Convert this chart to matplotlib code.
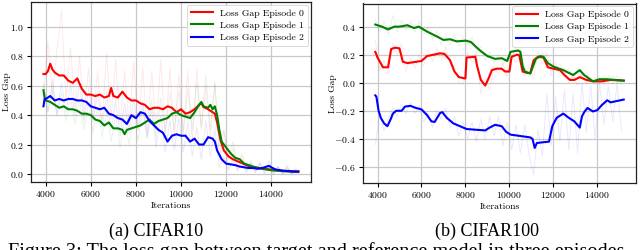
import numpy as np
import matplotlib
matplotlib.use("Agg")
import matplotlib.pyplot as plt

plt.rcParams['font.family'] = ['cmr10', 'DejaVu Serif']
plt.rcParams['mathtext.fontset'] = 'cm'
plt.rcParams['axes.formatter.use_mathtext'] = True

series_labels = ["Loss Gap Episode 0", "Loss Gap Episode 1", "Loss Gap Episode 2"]
series_colors = ["#ff0000", "#008000", "#0000ff"]

# ---------------- CIFAR10 (left) smoothed ----------------
c10_ep0_x = [3900,4000,4100,4200,4300,4400,4600,4800,5000,5200,5400,5600,5800,6000,6200,6400,6600,6800,6900,7000,
             7200,7400,7600,7800,8000,8200,8400,8600,8800,9000,9200,9400,9600,9800,10000,10200,10400,10600,10800,10900,
             11000,11200,11300,11500,11600,11750,11900,12100,12300,12600,13050,13500,13950,14400,14800,15200]
c10_ep0_y = [0.68,0.68,0.70,0.75,0.71,0.69,0.67,0.67,0.635,0.62,0.65,0.58,0.54,0.54,0.53,0.54,0.52,0.53,0.585,0.53,
             0.52,0.56,0.52,0.50,0.50,0.48,0.47,0.44,0.45,0.45,0.44,0.46,0.45,0.42,0.44,0.41,0.42,0.44,0.47,0.48,
             0.455,0.44,0.43,0.41,0.35,0.23,0.16,0.12,0.10,0.08,0.05,0.04,0.03,0.022,0.02,0.018]

c10_ep1_x = [3900,3950,4000,4200,4400,4600,4800,5000,5200,5400,5600,5800,6000,6200,6400,6600,6800,7000,7200,7400,
             7500,7600,7800,8000,8200,8400,8600,8800,9000,9200,9400,9600,9800,10000,10200,10400,10600,10800,10900,11000,
             11200,11300,11400,11500,11600,11700,11800,12000,12200,12400,12600,12800,13000,13200,13400,13600,13800,14000,14400,14800,
             15200]
c10_ep1_y = [0.57,0.52,0.50,0.49,0.47,0.45,0.46,0.44,0.44,0.43,0.41,0.41,0.40,0.37,0.36,0.33,0.35,0.31,0.31,0.30,
             0.27,0.30,0.31,0.32,0.33,0.35,0.37,0.34,0.36,0.37,0.38,0.41,0.42,0.40,0.39,0.38,0.42,0.47,0.49,0.46,
             0.45,0.47,0.44,0.46,0.40,0.30,0.22,0.18,0.14,0.11,0.10,0.07,0.06,0.05,0.04,0.035,0.03,0.025,0.02,0.015,
             0.015]

c10_ep2_x = [3900,3950,4000,4200,4400,4600,4800,5000,5200,5400,5600,5800,6000,6200,6400,6600,6800,7000,7200,7400,
             7600,7800,8000,8200,8400,8600,8800,9000,9200,9400,9600,9800,10000,10200,10400,10600,10800,11000,11200,11400,
             11500,11600,11800,12000,12200,12400,12600,12800,13000,13200,13400,13600,13800,13900,14000,14200,14400,14600,14800,15000,
             15200]
c10_ep2_y = [0.46,0.51,0.51,0.53,0.50,0.51,0.50,0.51,0.51,0.50,0.50,0.49,0.46,0.45,0.44,0.45,0.41,0.40,0.38,0.37,
             0.34,0.40,0.38,0.42,0.41,0.36,0.33,0.30,0.28,0.22,0.26,0.27,0.26,0.26,0.22,0.24,0.20,0.20,0.25,0.24,
             0.22,0.16,0.10,0.07,0.065,0.06,0.05,0.045,0.04,0.04,0.035,0.04,0.05,0.055,0.045,0.03,0.025,0.02,0.02,0.015,
             0.015]

# raw (unsmoothed) traces, sampled every 200 iterations from 3900
raw_x = np.arange(3900, 15101, 200)
c10_ep0_raw = [0.55,0.90,0.52,0.85,1.11,0.50,0.86,0.45,0.80,0.40,
               0.72,0.38,0.70,0.35,0.82,0.38,0.78,0.34,0.70,0.32,
               0.76,0.30,0.72,0.28,0.70,0.30,0.78,0.26,0.72,0.25,
               0.68,0.28,0.70,0.22,0.72,0.30,0.60,0.25,0.62,0.10,
               0.30,0.04,0.18,0.03,0.12,0.02,0.08,0.01,0.07,0.00,
               0.06,0.00,0.05,0.00,0.05,0.00,0.04]
c10_ep1_raw = [0.60,0.42,0.58,0.40,0.55,0.36,0.52,0.34,0.50,0.30,
               0.48,0.28,0.46,0.25,0.42,0.22,0.40,0.18,0.38,0.20,
               0.42,0.22,0.45,0.25,0.50,0.24,0.52,0.28,0.55,0.30,
               0.56,0.28,0.58,0.30,0.62,0.32,0.68,0.30,0.62,0.20,
               0.30,0.10,0.22,0.06,0.14,0.03,0.09,0.02,0.07,0.01,
               0.05,0.00,0.05,0.00,0.06,0.00,0.03]
c10_ep2_raw = [0.62,0.42,0.64,0.40,0.62,0.42,0.60,0.40,0.62,0.36,
               0.58,0.35,0.56,0.32,0.55,0.30,0.50,0.26,0.48,0.28,
               0.52,0.30,0.50,0.24,0.44,0.18,0.40,0.15,0.36,0.16,
               0.38,0.15,0.35,0.12,0.32,0.10,0.36,0.12,0.30,0.04,
               0.12,0.02,0.10,0.02,0.08,0.01,0.07,0.01,0.08,0.02,
               0.09,0.01,0.05,0.00,0.04,0.00,0.03]

# ---------------- CIFAR100 (right) smoothed ----------------
c100_ep0_x = [3900,4000,4250,4480,4620,4800,5000,5150,5360,6000,6250,6850,7050,7300,7500,7700,8000,8050,8450,8530,
              8700,8900,9050,9200,9420,9650,9800,10000,10100,10350,10450,10600,10800,10950,11100,11300,11550,11750,12000,12300,
              12500,12750,12950,13200,13500,13800,14200,14600,15200]
c100_ep0_y = [0.22,0.18,0.11,0.11,0.24,0.25,0.245,0.15,0.14,0.155,0.19,0.21,0.205,0.16,0.08,0.04,0.03,0.18,0.185,0.12,
              0.02,-0.02,0.03,0.09,0.10,0.10,0.08,0.08,0.185,0.20,0.195,0.08,0.07,0.07,0.16,0.185,0.18,0.11,0.10,0.09,
              0.055,0.02,0.02,0.04,0.02,0.01,0.01,0.02,0.015]

c100_ep1_x = [3900,4000,4200,4480,4770,5000,5360,5660,5880,6250,6700,7000,7300,7600,8030,8250,8450,8700,9000,9350,
              9650,9900,10050,10400,10500,10600,10700,10950,11200,11400,11550,11750,12000,12450,12900,13200,13400,13800,14100,14400,
              14800,15200]
c100_ep1_y = [0.415,0.41,0.40,0.38,0.40,0.40,0.41,0.39,0.40,0.365,0.33,0.305,0.31,0.295,0.30,0.29,0.26,0.225,0.19,0.17,
              0.175,0.155,0.22,0.23,0.22,0.12,0.08,0.065,0.17,0.19,0.185,0.14,0.115,0.09,0.055,0.09,0.055,0.01,0.025,0.025,
              0.02,0.015]

c100_ep2_x = [3900,3950,4050,4150,4300,4450,4600,4700,4850,5100,5250,5500,5750,6000,6250,6450,6600,6850,6950,7150,
              7450,7750,8050,8450,8900,9100,9350,9650,9850,10050,10500,10950,11050,11150,11250,11500,11800,11950,12150,12450,
              12700,12950,13200,13300,13400,13550,13800,14000,14200,14450,14600,14900,15200]
c100_ep2_y = [-0.09,-0.10,-0.20,-0.25,-0.29,-0.31,-0.26,-0.22,-0.20,-0.20,-0.17,-0.165,-0.18,-0.19,-0.23,-0.275,-0.28,-0.215,-0.21,-0.25,
              -0.29,-0.31,-0.33,-0.335,-0.34,-0.32,-0.30,-0.31,-0.35,-0.37,-0.38,-0.39,-0.40,-0.465,-0.43,-0.425,-0.42,-0.31,-0.25,-0.22,
              -0.25,-0.275,-0.32,-0.24,-0.21,-0.18,-0.205,-0.195,-0.16,-0.125,-0.14,-0.13,-0.12]

c100_ep0_raw = [0.30,0.08,0.16,0.06,0.28,0.20,0.28,0.08,0.18,0.10,
                0.20,0.12,0.24,0.15,0.25,0.16,0.26,0.14,0.12,0.00,
                -0.01,0.22,0.14,0.22,-0.08,0.04,-0.05,0.12,0.06,0.14,
                0.04,0.20,0.14,0.23,0.05,0.11,0.04,0.22,0.13,0.21,
                0.07,0.14,0.05,0.11,0.00,0.06,-0.02,0.07,-0.01,0.04,
                -0.01,0.04,-0.01,0.05,-0.01,0.05,-0.01]
c100_ep1_raw = [0.45,0.36,0.44,0.34,0.48,0.36,0.45,0.37,0.44,0.36,
                0.44,0.34,0.40,0.31,0.37,0.27,0.34,0.27,0.35,0.26,
                0.33,0.27,0.33,0.22,0.26,0.16,0.22,0.14,0.20,0.13,
                0.18,0.17,0.25,0.19,0.12,0.04,0.12,0.16,0.22,0.16,
                0.16,0.10,0.13,0.07,0.10,0.03,0.11,0.04,0.08,0.00,
                0.04,-0.01,0.05,0.00,0.05,0.00,0.04]
c100_ep2_raw = [-0.44,-0.22,-0.34,-0.26,-0.18,-0.24,-0.15,-0.22,-0.14,-0.22,
                -0.16,-0.28,-0.22,-0.32,-0.20,-0.26,-0.18,-0.32,-0.24,-0.38,
                -0.28,-0.40,-0.28,-0.42,-0.26,-0.40,-0.24,-0.38,-0.24,-0.45,
                -0.28,-0.48,-0.30,-0.50,-0.30,-0.52,-0.66,-0.34,-0.52,-0.08,
                -0.45,-0.10,-0.42,-0.05,-0.48,-0.08,-0.50,0.00,-0.35,-0.02,
                -0.40,0.00,-0.30,-0.02,-0.28,0.00,-0.35]

left_yticks = [0.0, 0.2, 0.4, 0.6, 0.8, 1.0]
right_yticks = [-0.6, -0.4, -0.2, 0.0, 0.2, 0.4]
xticks = [4000, 6000, 8000, 10000, 12000, 14000]

fig = plt.figure(figsize=(6.4, 2.5), dpi=100)
axL = fig.add_axes([0.048, 0.272, 0.438, 0.720])
axR = fig.add_axes([0.567, 0.268, 0.427, 0.718])

def draw(ax, smooth, raws, ylim, yticks, ylab_x):
    for (sx, sy), raw, col in zip(smooth, raws, series_colors):
        ax.plot(raw_x, raw, color=col, lw=0.7, alpha=0.09, zorder=2)
    for (sx, sy), lab, col in zip(smooth, series_labels, series_colors):
        ax.plot(sx, sy, color=col, lw=1.5, label=lab, zorder=3)
    ax.set_xlim(3335, 15765)
    ax.set_ylim(*ylim)
    ax.set_xticks(xticks)
    ax.set_yticks(yticks)
    ax.grid(True, color='#c8c8c8', lw=0.9)
    ax.set_axisbelow(True)
    ax.tick_params(labelsize=7, length=3, width=0.8, pad=2)
    ax.set_xlabel("Iterations", fontsize=7, labelpad=2)
    ax.set_ylabel("Loss Gap", fontsize=6.8)
    ax.yaxis.set_label_coords(ylab_x, 0.5)
    for s in ax.spines.values():
        s.set_linewidth(0.9)
        s.set_color('#222222')
    leg = ax.legend(loc='upper right', fontsize=7, handlelength=2.2, borderpad=0.4,
                    labelspacing=0.35, framealpha=0.85, borderaxespad=0.3)
    leg.get_frame().set_linewidth(0.6)

draw(axL, [(c10_ep0_x, c10_ep0_y), (c10_ep1_x, c10_ep1_y), (c10_ep2_x, c10_ep2_y)],
     [c10_ep0_raw, c10_ep1_raw, c10_ep2_raw], (-0.055, 1.17), left_yticks, -0.072)
draw(axR, [(c100_ep0_x, c100_ep0_y), (c100_ep1_x, c100_ep1_y), (c100_ep2_x, c100_ep2_y)],
     [c100_ep0_raw, c100_ep1_raw, c100_ep2_raw], (-0.715, 0.565), right_yticks, -0.095)

cap_font = ['Liberation Serif', 'DejaVu Serif']
fig.text(156/640, 1 - 231/250, "(a) CIFAR10", ha='center', va='center', fontsize=13, family=cap_font)
fig.text(487/640, 1 - 231/250, "(b) CIFAR100", ha='center', va='center', fontsize=13, family=cap_font)
fig.text(8/640, 1 - 257.5/250, "Figure 3: The loss gap between target and reference model in three episodes",
         ha='left', va='baseline', fontsize=14.6, family=cap_font)

fig.savefig("out.png", dpi=100)
